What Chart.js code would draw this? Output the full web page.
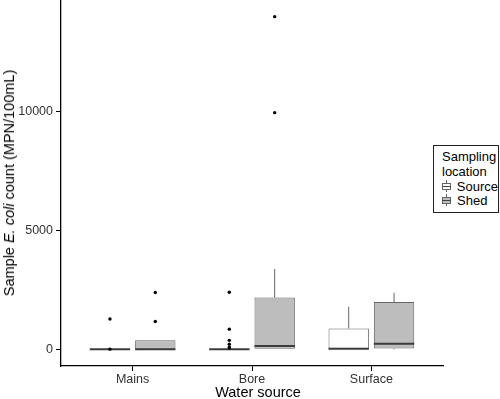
<!DOCTYPE html>
<html lang="en">
<head>
  <meta charset="UTF-8">
  <title>E. coli count by water source</title>
  <style>
    * { margin: 0; padding: 0; box-sizing: border-box; }
    body { background: #fff; font-family: "Liberation Sans", Arial, sans-serif; }
    #wrap { position: relative; width: 500px; height: 399px; }
    #ytitle {
      position: absolute; left: 9px; top: 183px;
      transform: translate(-50%, -50%) rotate(-90deg);
      white-space: nowrap; font-size: 14.5px; color: #000;
    }
    #xtitle {
      position: absolute; left: 258px; top: 392px;
      transform: translate(-50%, -50%);
      white-space: nowrap; font-size: 14.5px; color: #000;
    }
    #legend {
      position: absolute; left: 433px; top: 145px; width: 66px; height: 68px;
      border: 1.5px solid #222; background: #fff;
      font-size: 13px; line-height: 15px; color: #000; padding: 3px 0 0 8px;
    }
    .key { display: flex; align-items: center; height: 14px; }
    .glyph { position: relative; width: 9px; height: 12px; margin-right: 6px; }
    .glyph .stem { position: absolute; left: 4px; top: 0; width: 1px; height: 12px; background: #666; }
    .glyph .bx { position: absolute; left: 0; top: 3px; width: 9px; height: 7px; border: 1px solid #666; }
    .glyph .md { position: absolute; left: 0; top: 6px; width: 9px; height: 1px; background: #444; }
  </style>
  <script src="https://cdn.jsdelivr.net/npm/chart.js"></script>
</head>
<body>
  <div id="wrap">
    <canvas id="chart" width="500" height="399"></canvas>
    <div id="ytitle">Sample <i>E. coli</i> count (MPN/100mL)</div>
    <div id="xtitle">Water source</div>
    <div id="legend">
      <div>Sampling</div>
      <div>location</div>
      <div class="key"><span class="glyph"><span class="stem"></span><span class="bx" style="background:#fff"></span><span class="md"></span></span>Source</div>
      <div class="key"><span class="glyph"><span class="stem"></span><span class="bx" style="background:#bdbdbd"></span><span class="md"></span></span>Shed</div>
    </div>
  </div>

  <script>
    const categories = ["Mains", "Bore", "Surface"];
    const yTicks = [0, 5000, 10000];

    // box statistics per category: lower whisker, q1, median, q3, upper whisker
    const sourceLow    = [0, 0, 0];
    const sourceQ1     = [0, 0, 0];
    const sourceMedian = [0, 0, 25];
    const sourceQ3     = [0, 0, 880];
    const sourceHigh   = [0, 0, 1790];
    const sourceOutliers = [[10, 1280], [60, 100, 220, 380, 850, 2400], []];

    const shedLow    = [0, 0, 0];
    const shedQ1     = [0, 0, 40];
    const shedMedian = [0, 140, 235];
    const shedQ3     = [380, 2180, 1990];
    const shedHigh   = [0, 3380, 2380];
    const shedOutliers = [[1170, 2390], [9960, 14000], []];

    const boxStats = [
      { low: sourceLow, q1: sourceQ1, med: sourceMedian, q3: sourceQ3, high: sourceHigh, out: sourceOutliers },
      { low: shedLow, q1: shedQ1, med: shedMedian, q3: shedQ3, high: shedHigh, out: shedOutliers }
    ];

    function boxData(q1, q3) {
      return categories.map((_, i) => ({ x: i + 1, y: [q1[i], q3[i]] }));
    }

    // whiskers, medians and outliers drawn on top of the floating bars
    const boxExtras = {
      id: "boxExtras",
      afterDatasetsDraw(chart) {
        const ctx = chart.ctx;
        const y = chart.scales.y;
        ctx.save();
        boxStats.forEach((s, d) => {
          const meta = chart.getDatasetMeta(d);
          meta.data.forEach((bar, i) => {
            const half = bar.width / 2;
            ctx.strokeStyle = "#666";
            ctx.lineWidth = 1;
            ctx.beginPath();
            if (s.high[i] > s.q3[i]) {
              ctx.moveTo(bar.x, y.getPixelForValue(s.q3[i]));
              ctx.lineTo(bar.x, y.getPixelForValue(s.high[i]));
            }
            if (s.low[i] < s.q1[i]) {
              ctx.moveTo(bar.x, y.getPixelForValue(s.q1[i]));
              ctx.lineTo(bar.x, y.getPixelForValue(s.low[i]));
            }
            ctx.stroke();
            ctx.strokeStyle = "#3c3c3c";
            ctx.lineWidth = 2;
            ctx.beginPath();
            const my = y.getPixelForValue(s.med[i]);
            ctx.moveTo(bar.x - half, my);
            ctx.lineTo(bar.x + half, my);
            ctx.stroke();
            ctx.fillStyle = "#000";
            s.out[i].forEach(v => {
              ctx.beginPath();
              ctx.arc(bar.x, y.getPixelForValue(v), 1.7, 0, Math.PI * 2);
              ctx.fill();
            });
          });
        });
        ctx.restore();
      }
    };

    new Chart(document.getElementById("chart").getContext("2d"), {
      type: "bar",
      data: {
        datasets: [
          {
            label: "Source",
            data: boxData(sourceQ1, sourceQ3),
            backgroundColor: "#ffffff",
            borderColor: "#666",
            borderWidth: 1,
            borderSkipped: false,
            categoryPercentage: 0.76,
            barPercentage: 0.89
          },
          {
            label: "Shed",
            data: boxData(shedQ1, shedQ3),
            backgroundColor: "#bdbdbd",
            borderColor: "#666",
            borderWidth: 1,
            borderSkipped: false,
            categoryPercentage: 0.76,
            barPercentage: 0.89
          }
        ]
      },
      options: {
        responsive: false,
        animation: false,
        layout: { padding: { left: 0, right: 57, top: 0, bottom: 0 } },
        plugins: { legend: { display: false }, tooltip: { enabled: false } },
        scales: {
          x: {
            type: "linear",
            min: 0.4,
            max: 3.6,
            offset: false,
            afterBuildTicks: scale => { scale.ticks = categories.map((_, i) => ({ value: i + 1 })); },
            afterFit: scale => { scale.height = 33; scale.paddingLeft = 0; scale.paddingRight = 0; },
            ticks: {
              callback: v => categories[v - 1],
              font: { family: "Liberation Sans", size: 12.5 },
              color: "#333",
              padding: 1,
              maxRotation: 0
            },
            grid: { offset: false, drawOnChartArea: false, drawTicks: true, tickLength: 5, color: "#000" },
            border: { color: "#000", width: 1.3 }
          },
          y: {
            min: -700,
            max: 14700,
            afterBuildTicks: scale => { scale.ticks = yTicks.map(v => ({ value: v })); },
            afterFit: scale => { scale.width = 61; scale.paddingTop = 0; scale.paddingBottom = 0; },
            ticks: {
              callback: v => String(v),
              font: { family: "Liberation Sans", size: 12.5 },
              color: "#333",
              padding: 3
            },
            grid: { drawOnChartArea: false, drawTicks: true, tickLength: 5, color: "#000" },
            border: { color: "#000", width: 1.3 }
          }
        }
      },
      plugins: [boxExtras]
    });
  </script>
</body>
</html>
